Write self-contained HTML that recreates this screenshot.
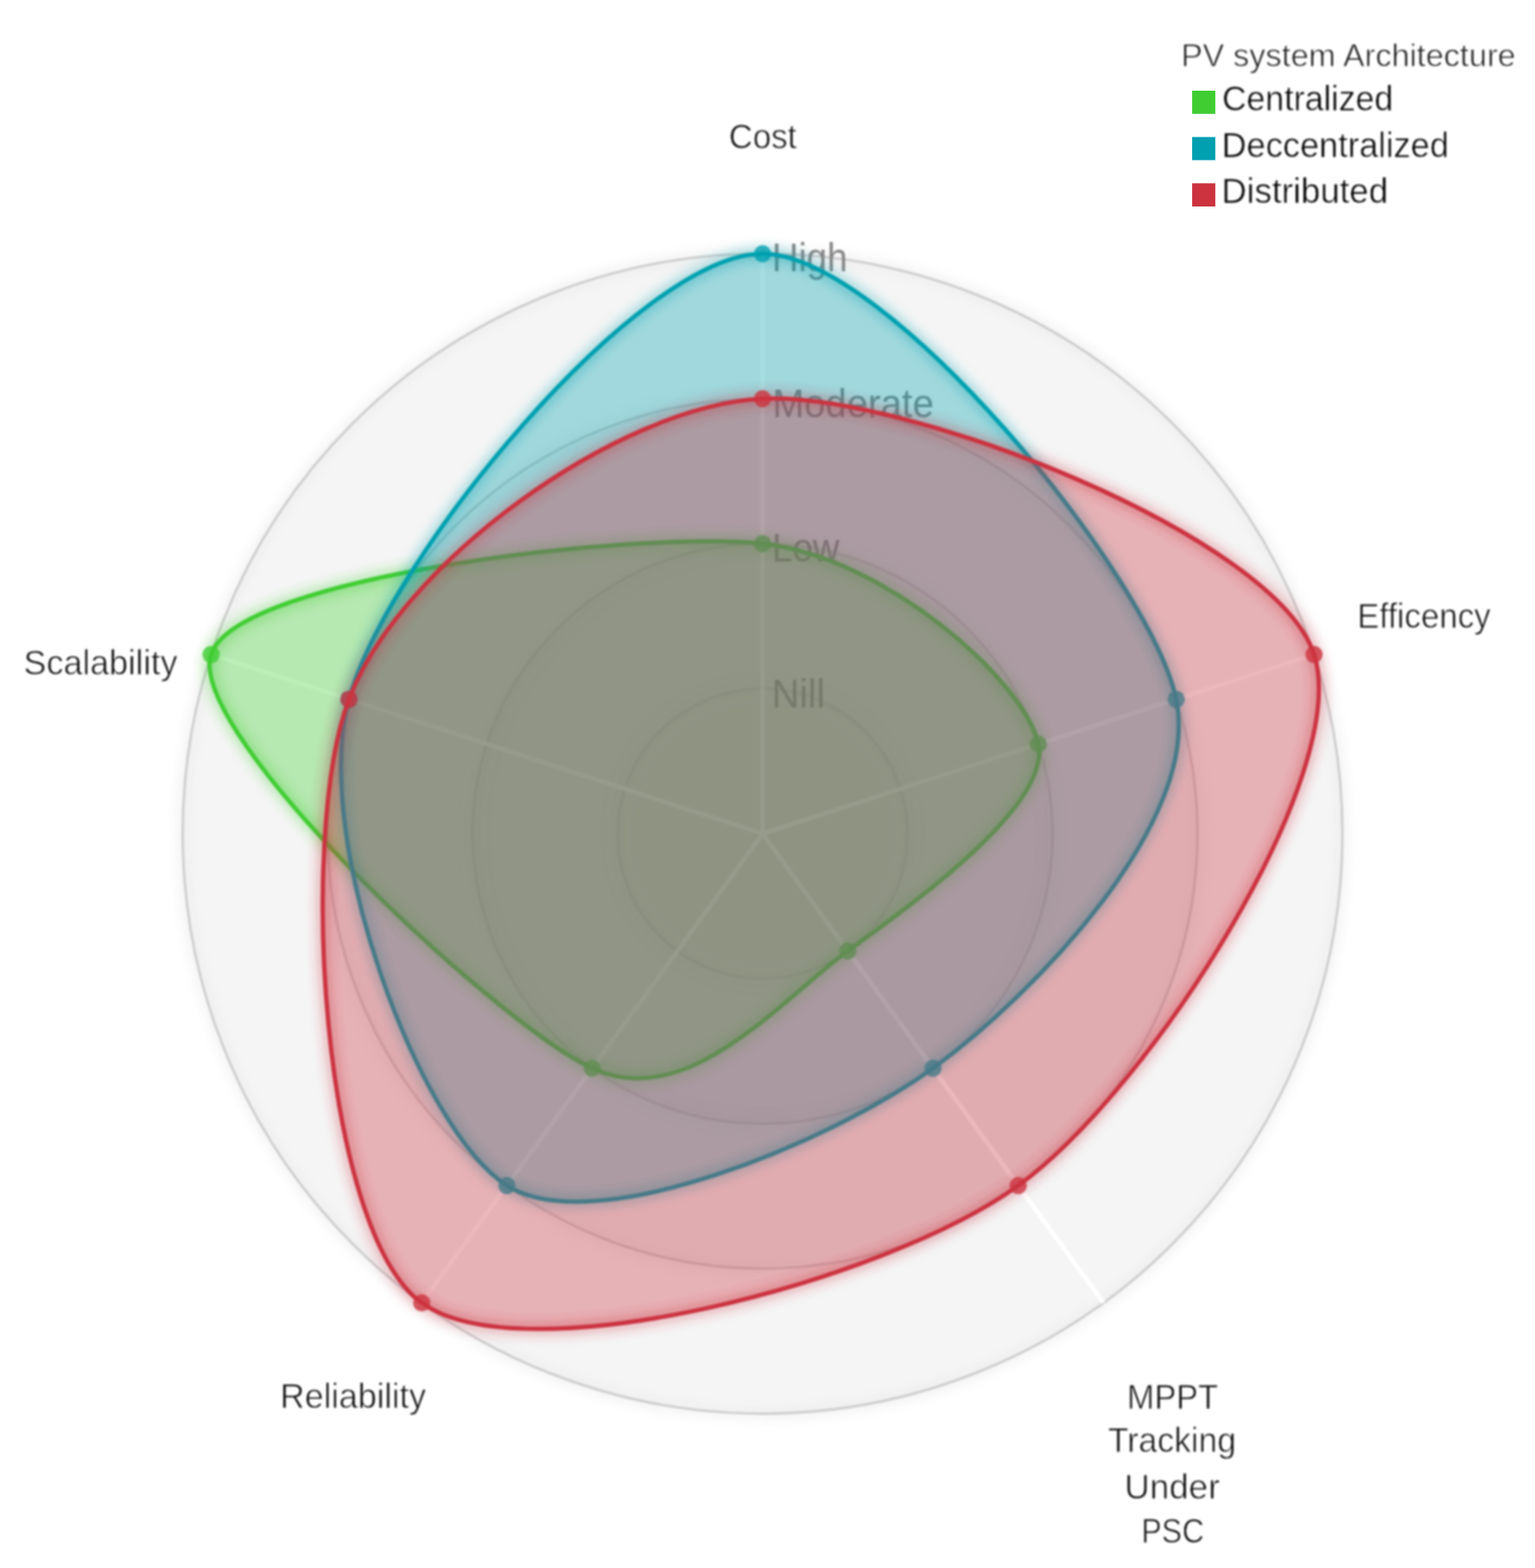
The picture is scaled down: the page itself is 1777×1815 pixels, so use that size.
<!DOCTYPE html>
<html lang="en"><head><meta charset="utf-8"><title>PV system Architecture radar chart</title>
<style>
html,body{margin:0;padding:0;background:#fff;}
body{width:1777px;height:1815px;overflow:hidden;}
svg{display:block;font-family:"Liberation Sans",sans-serif;}
.axl{fill:#0a0a0a;font-size:40.5px;stroke:#fff;stroke-width:0.8;}
.lvl{fill:#858585;font-size:46.0px;}
.lgt{fill:#141414;font-size:36.5px;stroke:#fff;stroke-width:0.8;}
.lgi{fill:#000000;font-size:40.5px;stroke:#fff;stroke-width:0.6;}
</style></head><body>
<svg width="1777" height="1815" viewBox="0 0 1777 1815">
<defs><filter id="glow" x="-20%" y="-20%" width="140%" height="140%"><feGaussianBlur stdDeviation="7.72" result="b"/><feMerge><feMergeNode in="b"/><feMergeNode in="SourceGraphic"/></feMerge></filter><filter id="soft" color-interpolation-filters="sRGB" filterUnits="userSpaceOnUse" x="0" y="0" width="1777" height="1815"><feGaussianBlur stdDeviation="0.8"/></filter></defs>
<rect width="1777" height="1815" fill="#ffffff"/>
<g class="soft" filter="url(#soft)">
<g class="grid">
<circle cx="882.80" cy="965.00" r="671.30" fill="#CDCDCD" fill-opacity="0.1" stroke="#CDCDCD" stroke-width="2.80" filter="url(#glow)"/>
<circle cx="882.80" cy="965.00" r="503.47" fill="#CDCDCD" fill-opacity="0.1" stroke="#CDCDCD" stroke-width="2.80" filter="url(#glow)"/>
<circle cx="882.80" cy="965.00" r="335.65" fill="#CDCDCD" fill-opacity="0.1" stroke="#CDCDCD" stroke-width="2.80" filter="url(#glow)"/>
<circle cx="882.80" cy="965.00" r="167.82" fill="#CDCDCD" fill-opacity="0.1" stroke="#CDCDCD" stroke-width="2.80" filter="url(#glow)"/>
</g>
<g class="levels">
<text class="lvl" x="893.81" y="313.8" textLength="87.24" lengthAdjust="spacingAndGlyphs">High</text>
<text class="lvl" x="894.16" y="483.0" textLength="186.84" lengthAdjust="spacingAndGlyphs">Moderate</text>
<text class="lvl" x="893.79" y="649.5" textLength="78.01" lengthAdjust="spacingAndGlyphs">Low</text>
<text class="lvl" x="893.62" y="818.8" textLength="61.35" lengthAdjust="spacingAndGlyphs">Nill</text>
</g>
<g class="axes">
<line x1="882.80" y1="965.00" x2="882.80" y2="293.70" stroke="#ffffff" stroke-width="5.00"/>
<line x1="882.80" y1="965.00" x2="1521.24" y2="757.56" stroke="#ffffff" stroke-width="5.00"/>
<line x1="882.80" y1="965.00" x2="1277.38" y2="1508.09" stroke="#ffffff" stroke-width="5.00"/>
<line x1="882.80" y1="965.00" x2="488.22" y2="1508.09" stroke="#ffffff" stroke-width="5.00"/>
<line x1="882.80" y1="965.00" x2="244.36" y2="757.56" stroke="#ffffff" stroke-width="5.00"/>
</g>
<g class="axislabels">
<text class="axl" x="843.84" y="171.7" textLength="78.56" lengthAdjust="spacingAndGlyphs">Cost</text>
<text class="axl" x="1571.21" y="727.2" textLength="154.56" lengthAdjust="spacingAndGlyphs">Efficency</text>
<text class="axl"><tspan x="1304.87" y="1630.5" textLength="104.48" lengthAdjust="spacingAndGlyphs">MPPT</tspan> <tspan x="1282.66" y="1681.3" textLength="148.27" lengthAdjust="spacingAndGlyphs">Tracking</tspan> <tspan x="1301.79" y="1735.1" textLength="110.36" lengthAdjust="spacingAndGlyphs">Under</tspan> <tspan x="1321.3" y="1786.2" textLength="72.62" lengthAdjust="spacingAndGlyphs">PSC</tspan></text>
<text class="axl" x="324.32" y="1630.1" textLength="168.82" lengthAdjust="spacingAndGlyphs">Reliability</text>
<text class="axl" x="27.22" y="780.7" textLength="178.27" lengthAdjust="spacingAndGlyphs">Scalability</text>
</g>
<g class="blob">
<path d="M882.80,629.35C1026.45,644.91,1187.23,790.56,1202.02,861.28C1216.82,931.99,1058.92,1044.48,981.45,1100.77C903.97,1157.06,796.07,1288.03,685.51,1236.55C574.95,1185.06,214.76,848.64,244.36,757.56C273.95,666.48,739.15,613.79,882.80,629.35Z" fill="#3FCD32" fill-opacity="0.35"/>
<path d="M882.80,629.35C1026.45,644.91,1187.23,790.56,1202.02,861.28C1216.82,931.99,1058.92,1044.48,981.45,1100.77C903.97,1157.06,796.07,1288.03,685.51,1236.55C574.95,1185.06,214.76,848.64,244.36,757.56C273.95,666.48,739.15,613.79,882.80,629.35Z" fill="none" stroke="#3FCD32" stroke-width="5.00" filter="url(#glow)"/>
<circle cx="882.80" cy="629.35" r="10.00" fill="#3FCD32" fill-opacity="0.8"/>
<circle cx="1202.02" cy="861.28" r="10.00" fill="#3FCD32" fill-opacity="0.8"/>
<circle cx="981.45" cy="1100.77" r="10.00" fill="#3FCD32" fill-opacity="0.8"/>
<circle cx="685.51" cy="1236.55" r="10.00" fill="#3FCD32" fill-opacity="0.8"/>
<circle cx="244.36" cy="757.56" r="10.00" fill="#3FCD32" fill-opacity="0.8"/>
</g>
<g class="blob">
<path d="M882.80,293.70C1026.45,293.70,1332.04,667.99,1361.63,809.42C1391.23,950.84,1196.31,1152.11,1080.09,1236.55C963.87,1320.98,688.28,1436.39,586.86,1372.32C485.45,1308.25,359.58,971.21,403.97,809.42C448.36,647.62,739.15,293.70,882.80,293.70Z" fill="#00A0B0" fill-opacity="0.35"/>
<path d="M882.80,293.70C1026.45,293.70,1332.04,667.99,1361.63,809.42C1391.23,950.84,1196.31,1152.11,1080.09,1236.55C963.87,1320.98,688.28,1436.39,586.86,1372.32C485.45,1308.25,359.58,971.21,403.97,809.42C448.36,647.62,739.15,293.70,882.80,293.70Z" fill="none" stroke="#00A0B0" stroke-width="5.00" filter="url(#glow)"/>
<circle cx="882.80" cy="293.70" r="10.00" fill="#00A0B0" fill-opacity="0.8"/>
<circle cx="1361.63" cy="809.42" r="10.00" fill="#00A0B0" fill-opacity="0.8"/>
<circle cx="1080.09" cy="1236.55" r="10.00" fill="#00A0B0" fill-opacity="0.8"/>
<circle cx="586.86" cy="1372.32" r="10.00" fill="#00A0B0" fill-opacity="0.8"/>
<circle cx="403.97" cy="809.42" r="10.00" fill="#00A0B0" fill-opacity="0.8"/>
</g>
<g class="blob">
<path d="M882.80,461.53C1050.39,453.75,1476.85,620.94,1521.24,757.56C1565.63,894.18,1333.69,1259.74,1178.74,1372.32C1023.78,1484.90,604.44,1592.53,488.22,1508.09C372.00,1423.66,344.78,966.40,403.97,809.42C463.15,652.43,715.21,469.30,882.80,461.53Z" fill="#CC333F" fill-opacity="0.35"/>
<path d="M882.80,461.53C1050.39,453.75,1476.85,620.94,1521.24,757.56C1565.63,894.18,1333.69,1259.74,1178.74,1372.32C1023.78,1484.90,604.44,1592.53,488.22,1508.09C372.00,1423.66,344.78,966.40,403.97,809.42C463.15,652.43,715.21,469.30,882.80,461.53Z" fill="none" stroke="#CC333F" stroke-width="5.00" filter="url(#glow)"/>
<circle cx="882.80" cy="461.53" r="10.00" fill="#CC333F" fill-opacity="0.8"/>
<circle cx="1521.24" cy="757.56" r="10.00" fill="#CC333F" fill-opacity="0.8"/>
<circle cx="1178.74" cy="1372.32" r="10.00" fill="#CC333F" fill-opacity="0.8"/>
<circle cx="488.22" cy="1508.09" r="10.00" fill="#CC333F" fill-opacity="0.8"/>
<circle cx="403.97" cy="809.42" r="10.00" fill="#CC333F" fill-opacity="0.8"/>
</g>
<g class="legend">
<text class="lgt" x="1367.16" y="77.4" textLength="387.58" lengthAdjust="spacingAndGlyphs">PV system Architecture</text>
<text class="lgi" x="1414.82" y="128.3" textLength="198.06" lengthAdjust="spacingAndGlyphs">Centralized</text>
<text class="lgi" x="1414.37" y="181.8" textLength="262.96" lengthAdjust="spacingAndGlyphs">Deccentralized</text>
<text class="lgi" x="1414.11" y="235.3" textLength="192.89" lengthAdjust="spacingAndGlyphs">Distributed</text>
</g>
</g>
<g class="swatches">
<rect x="1380.1" y="105.0" width="26.8" height="26.8" fill="#3FCD32"/>
<rect x="1380.1" y="158.6" width="26.8" height="26.8" fill="#00A0B0"/>
<rect x="1380.1" y="212.2" width="26.8" height="26.8" fill="#CC333F"/>
</g>
</svg></body></html>
